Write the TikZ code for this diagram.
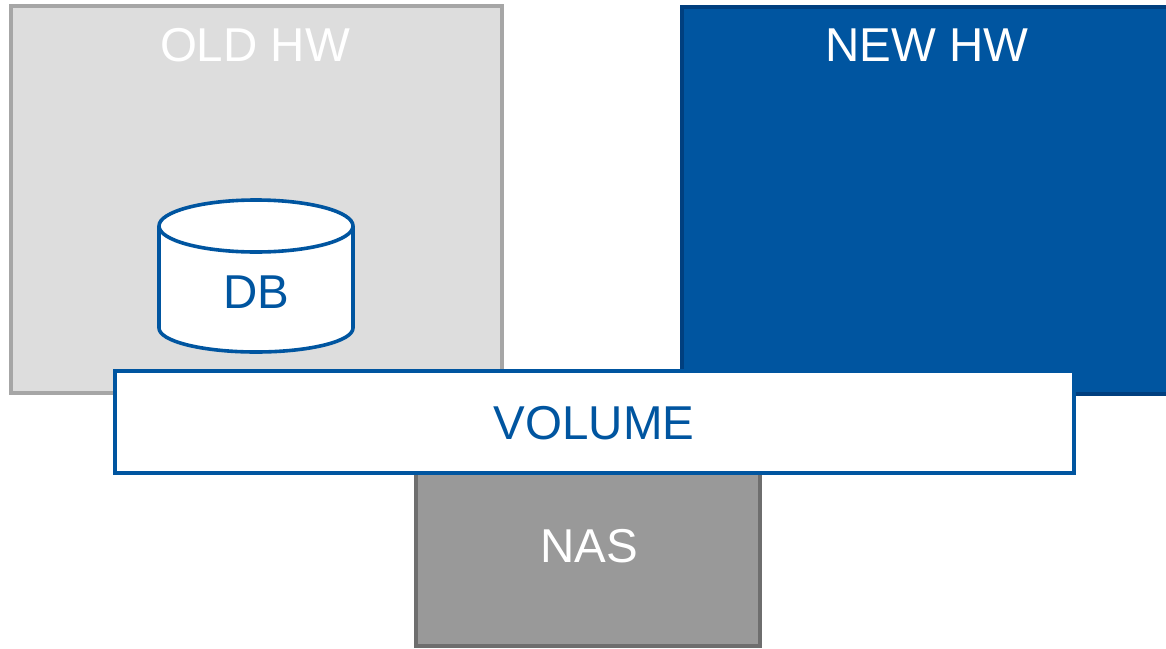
\documentclass[tikz,border=0pt]{standalone}
\usepackage{fontspec}
\setmainfont{Liberation Sans}
\definecolor{hwblue}{HTML}{0055A0}
\definecolor{hwedge}{HTML}{003F7F}
\definecolor{oldfill}{HTML}{DDDDDD}
\definecolor{oldedge}{HTML}{A6A6A6}
\definecolor{nasfill}{HTML}{999999}
\definecolor{nasedge}{HTML}{6E6E6E}
\tikzset{
	box/.style={draw,line width=4pt,rectangle,inner sep=0pt,outer sep=0pt,anchor=north west},
	oldbox/.style={box,fill=oldfill,draw=oldedge},
	newbox/.style={box,fill=hwblue,draw=hwedge},
	nasbox/.style={box,fill=nasfill,draw=nasedge},
	volbox/.style={box,fill=white,draw=hwblue},
	whitelabel/.style={text=white,font=\fontsize{47.5}{52}\selectfont},
	bluelabel/.style={text=hwblue,font=\fontsize{47.5}{52}\selectfont}
}
\begin{document}
\begin{tikzpicture}[x=1pt,y=-1pt]
	\useasboundingbox (0,0) rectangle (1166,648);
	\node[oldbox,minimum width=491pt,minimum height=386.5pt] (old) at (10.5,6) {};
	\node[whitelabel] (oldlabel) at (255,45) {OLD HW};
	\node[newbox,minimum width=500pt,minimum height=387pt] (new) at (682,7) {};
	\node[whitelabel] (newlabel) at (927,45) {NEW HW};
	\node[nasbox,minimum width=344pt,minimum height=200pt] (nas) at (416,446) {};
	\node[whitelabel] (naslabel) at (589,546) {NAS};
	\node[volbox,minimum width=959pt,minimum height=102pt] (vol) at (115,371) {};
	\node[bluelabel] (vollabel) at (594,423) {VOLUME};
	\draw[draw=hwblue,line width=3.6pt,fill=white] (159,226) -- (159,328) arc[start angle=180,end angle=360,x radius=97,y radius=-24] -- (353,226) arc[start angle=0,end angle=180,x radius=97,y radius=-26] -- cycle;
	\draw[draw=hwblue,line width=3.6pt] (159,226) arc[start angle=180,end angle=360,x radius=97,y radius=-26];
	\node[bluelabel] (dblabel) at (256,292) {DB};
\end{tikzpicture}
\end{document}
